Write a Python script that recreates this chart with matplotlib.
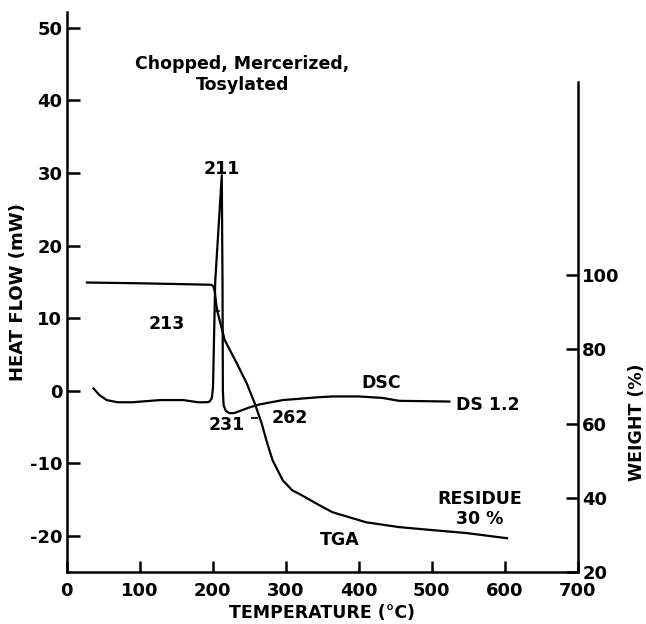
import matplotlib
matplotlib.use("Agg")
import matplotlib.pyplot as plt

# DSC heat flow (mW) vs temperature (C)
dsc_temp = [37, 45, 55, 70, 90, 128, 160, 180, 192, 196, 199, 200.5, 203.5,
            212.5, 213.5, 214, 215, 218, 223, 229, 240, 250.7, 264, 296, 346,
            364, 400, 432, 455, 524]
dsc_flow = [0.3, -0.6, -1.3, -1.6, -1.6, -1.3, -1.3, -1.6, -1.6, -1.5, -1.0,
            0.5, 15.0, 29.7, 15.0, 0.0, -2.0, -2.8, -3.1, -3.1, -2.7, -2.3,
            -1.9, -1.3, -0.9, -0.8, -0.8, -1.0, -1.4, -1.5]

# TGA weight (%) vs temperature (C)
tga_temp = [28, 100, 150, 198, 201, 203, 205, 207, 216.5, 232.9, 246.5, 257.5,
            267, 273.5, 282, 296, 309, 319, 346, 364, 410, 455, 500, 547, 603]
tga_weight = [98.0, 97.8, 97.6, 97.4, 97.0, 95.5, 92.0, 89.8, 82.5, 76.3, 70.9,
              65.5, 60.1, 55.5, 50.1, 44.7, 42.0, 41.0, 38.0, 36.1, 33.4, 32.1,
              31.3, 30.5, 29.1]

x_ticks = [0, 100, 200, 300, 400, 500, 600, 700]
flow_ticks = [-20, -10, 0, 10, 20, 30, 40, 50]
weight_ticks = [20, 40, 60, 80, 100]

plt.rcParams['font.family'] = ['DejaVu Sans']
fig = plt.figure(figsize=(6.46, 6.24), dpi=100)
ax = fig.add_axes([66.5 / 646, 1 - 572 / 624, (578 - 66.5) / 646, (572 - 12) / 624])
ax2 = ax.twinx()

lw = 1.6
ax.plot(dsc_temp, dsc_flow, color='black', lw=lw, solid_joinstyle='round')
ax2.plot(tga_temp, tga_weight, color='black', lw=lw, solid_joinstyle='round')

ax.set_xlim(0, 700)
ax.set_ylim(-25, 52.2)
ax2.set_ylim(20, 170.9)

for a in (ax, ax2):
    for s in a.spines.values():
        s.set_linewidth(1.8)
    a.spines['top'].set_visible(False)
ax.spines['right'].set_visible(False)
ax2.spines['left'].set_visible(False)
ax2.spines['bottom'].set_visible(False)
ax2.spines['right'].set_bounds(20, 152)

tick_font = dict(fontsize=13, fontweight='bold')
ax.set_xticks(x_ticks)
ax.set_xticklabels([str(v) for v in x_ticks], **tick_font)
ax.set_yticks(flow_ticks)
ax.set_yticklabels([str(v) for v in flow_ticks], **tick_font)
ax2.set_yticks(weight_ticks)
ax2.set_yticklabels([str(v) for v in weight_ticks], **tick_font)

ax.tick_params(axis='x', direction='in', length=8, width=1.8, pad=7)
ax.tick_params(axis='y', direction='in', length=9, width=1.8, pad=3)
ax2.tick_params(axis='y', direction='in', length=9, width=1.8, pad=3)

ax.set_xlabel('TEMPERATURE (°C)', fontsize=12.5, fontweight='bold')
ax.xaxis.set_label_coords(0.5, (572 - 613) / 560)
ax.xaxis.label.set_va('center')
ax.set_ylabel('HEAT FLOW (mW)', fontsize=13, fontweight='bold')
ax.yaxis.set_label_coords((18 - 66.5) / 511.5, 0.5)
ax.yaxis.label.set_va('center')
fig.text(637 / 646, 1 - 422 / 624, 'WEIGHT (%)', rotation=90, ha='center',
         va='center', fontsize=12.5, fontweight='bold')

ann = dict(fontsize=12.5, fontweight='bold', color='black')
ax.text(241, 45, 'Chopped, Mercerized,', ha='center', va='center',
        fontsize=12.5, fontweight='bold')
ax.text(241, 42.1, 'Tosylated', ha='center', va='center',
        fontsize=12.5, fontweight='bold')
ax.text(212, 30.6, '211', ha='center', va='center', **ann)
ax.text(137, 9.2, '213', ha='center', va='center', **ann)
ax.text(219, -4.7, '231', ha='center', va='center', **ann)
ax.text(305, -3.8, '262', ha='center', va='center', **ann)
ax.plot([254, 261], [-3.8, -3.8], color='black', lw=1.3)
ax.plot([204, 209], [11.0, 11.0], color='black', lw=1.2)
ax.text(431, 1.0, 'DSC', ha='center', va='center', **ann)
ax.text(577, -2.0, 'DS 1.2', ha='center', va='center', **ann)
ax.text(565, -14.9, 'RESIDUE', ha='center', va='center', **ann)
ax.text(565, -17.7, '30 %', ha='center', va='center', **ann)
ax.text(374, -20.6, 'TGA', ha='center', va='center', **ann)

fig.savefig('out.png', dpi=100)
